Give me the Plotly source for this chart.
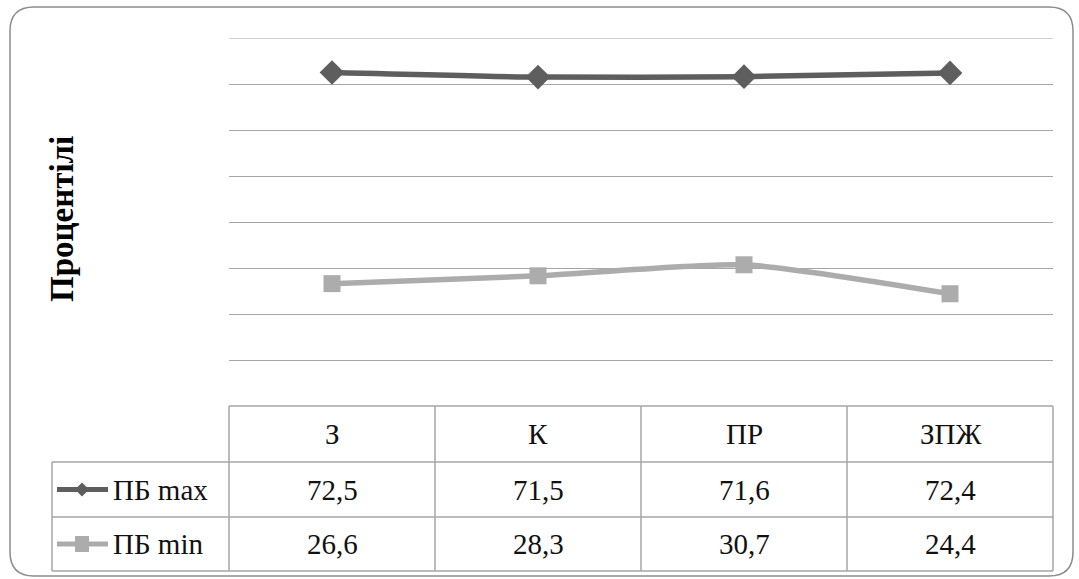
import plotly.graph_objects as go

categories = ["З", "К", "ПР", "ЗПЖ"]
series_names = ["ПБ max", "ПБ min"]
pb_max = [72.5, 71.5, 71.6, 72.4]
pb_min = [26.6, 28.3, 30.7, 24.4]
y_title = "Процентілі"

W, H = 1079, 579
COL_MAX = "#5e5e5e"
COL_MIN = "#acacac"
GRID = "#a6a6a6"
FONT = "Liberation Serif"
TXT = 29

def px(x):
    return x / W

def py(y):
    return 1 - y / H

plot_l, plot_r, plot_t, plot_b = 229, 1053, 38, 406
row_lines = [406, 462, 517, 571]
legend_l = 52
y_max = 80

fig = go.Figure()
fig.add_trace(go.Scatter(x=categories, y=pb_max, name=series_names[0], mode="lines+markers",
                         line=dict(color=COL_MAX, width=5.5, shape="spline", smoothing=0.6),
                         marker=dict(symbol="diamond", size=19, color=COL_MAX)))
fig.add_trace(go.Scatter(x=categories, y=pb_min, name=series_names[1], mode="lines+markers",
                         line=dict(color=COL_MIN, width=5.5, shape="spline", smoothing=0.6),
                         marker=dict(symbol="square", size=17, color=COL_MIN)))

shapes = []
x0, y0, x1, y1, r = 10, 7, 1073, 576, 24
path = (f"M {px(x0+r)},{py(y0)} L {px(x1-r)},{py(y0)} Q {px(x1)},{py(y0)} {px(x1)},{py(y0+r)} "
        f"L {px(x1)},{py(y1-r)} Q {px(x1)},{py(y1)} {px(x1-r)},{py(y1)} "
        f"L {px(x0+r)},{py(y1)} Q {px(x0)},{py(y1)} {px(x0)},{py(y1-r)} "
        f"L {px(x0)},{py(y0+r)} Q {px(x0)},{py(y0)} {px(x0+r)},{py(y0)} Z")
shapes.append(dict(type="path", xref="paper", yref="paper", path=path,
                   line=dict(color="#8c8c8c", width=1.5), layer="below"))
shapes.append(dict(type="line", xref="paper", yref="y", x0=px(plot_l), x1=px(plot_r),
                   y0=y_max, y1=y_max, line=dict(color=GRID, width=1), layer="below"))

tl = dict(color=GRID, width=1.5)
shapes.append(dict(type="line", xref="paper", yref="paper", x0=px(plot_l), x1=px(plot_r),
                   y0=py(row_lines[0]), y1=py(row_lines[0]), line=tl))
for yy in row_lines[1:]:
    shapes.append(dict(type="line", xref="paper", yref="paper", x0=px(legend_l), x1=px(plot_r),
                       y0=py(yy), y1=py(yy), line=tl))
ncol = len(categories)
colw = (plot_r - plot_l) / ncol
for i in range(ncol + 1):
    xx = plot_l + i * colw
    shapes.append(dict(type="line", xref="paper", yref="paper", x0=px(xx), x1=px(xx),
                       y0=py(row_lines[0]), y1=py(row_lines[-1]), line=tl))
shapes.append(dict(type="line", xref="paper", yref="paper", x0=px(legend_l), x1=px(legend_l),
                   y0=py(row_lines[1]), y1=py(row_lines[-1]), line=tl))

annotations = []
annotations.append(dict(text=f"<b>{y_title}</b>", x=px(62), y=py(219), xref="paper", yref="paper",
                        textangle=-90, showarrow=False,
                        font=dict(family=FONT, size=33, color="#000"), xanchor="center", yanchor="middle"))
for i, c in enumerate(categories):
    cx = plot_l + (i + 0.5) * colw
    annotations.append(dict(text=c, x=px(cx), y=py((row_lines[0] + row_lines[1]) / 2), xref="paper", yref="paper",
                            showarrow=False, xanchor="center", yanchor="middle",
                            font=dict(family=FONT, size=TXT, color="#111")))
series_vals = [pb_max, pb_min]
series_cols = [COL_MAX, COL_MIN]
symbols = ["diamond", "square"]
for r_i, (name, vals, col) in enumerate(zip(series_names, series_vals, series_cols)):
    cy = (row_lines[r_i + 1] + row_lines[r_i + 2]) / 2
    for i, v in enumerate(vals):
        cx = plot_l + (i + 0.5) * colw
        annotations.append(dict(text=f"{v:.1f}".replace(".", ","), x=px(cx), y=py(cy), xref="paper", yref="paper",
                                showarrow=False, xanchor="center", yanchor="middle",
                                font=dict(family=FONT, size=TXT, color="#111")))
    shapes.append(dict(type="line", xref="paper", yref="paper", x0=px(57), x1=px(108), y0=py(cy), y1=py(cy),
                       line=dict(color=col, width=5)))
    d = 7
    if symbols[r_i] == "diamond":
        shapes.append(dict(type="path", xref="paper", yref="paper",
                           path=f"M {px(82-d)},{py(cy)} L {px(82)},{py(cy-d)} L {px(82+d)},{py(cy)} L {px(82)},{py(cy+d)} Z",
                           fillcolor=col, line=dict(width=0)))
    else:
        shapes.append(dict(type="rect", xref="paper", yref="paper", x0=px(82-d), x1=px(82+d),
                           y0=py(cy-d-1), y1=py(cy+d+1), fillcolor=col, line=dict(width=0)))
    annotations.append(dict(text=name, x=px(111), y=py(cy), xref="paper", yref="paper",
                            xanchor="left", yanchor="middle",
                            showarrow=False, font=dict(family=FONT, size=TXT, color="#111")))

fig.update_layout(
    width=W, height=H, margin=dict(l=0, r=0, t=0, b=0),
    paper_bgcolor="white", plot_bgcolor="white", showlegend=False,
    font=dict(family=FONT),
    xaxis=dict(domain=[px(plot_l), px(plot_r)], range=[-0.5, ncol - 0.5], showticklabels=False,
               showgrid=False, zeroline=False, showline=False, ticks=""),
    yaxis=dict(domain=[py(plot_b), py(plot_t)], range=[0, y_max], tick0=0, dtick=10, showticklabels=False,
               showgrid=True, gridcolor=GRID, gridwidth=1, zeroline=False, showline=False, ticks=""),
    shapes=shapes, annotations=annotations,
)
fig.write_html("out.html", config={"displayModeBar": False},
               post_script="document.body.style.margin='0';")
